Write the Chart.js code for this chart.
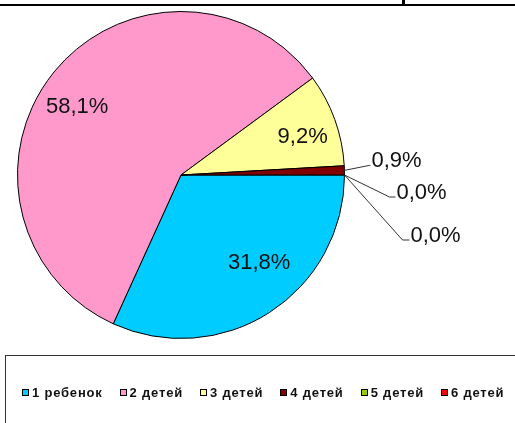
<!DOCTYPE html>
<html>
<head>
<meta charset="utf-8">
<script src="https://cdn.jsdelivr.net/npm/chart.js@4.4.1/dist/chart.umd.min.js"></script>
<style>
  html, body { margin: 0; padding: 0; background: #fff; width: 515px; height: 423px; overflow: hidden; position: relative; }
  #c { position: absolute; left: 0; top: 0; }
  .topline { position: absolute; left: 0; top: 4px; width: 515px; height: 2px; background: #000; }
  .toptab { position: absolute; left: 402px; top: 0; width: 3px; height: 6px; background: #000; }
  #legend { position: absolute; left: 5px; top: 355px; width: 530px; height: 90px; border: 1.5px solid #333; box-sizing: border-box; }
  #legend .items { position: absolute; left: 16px; top: 29px; display: flex; gap: 17px; align-items: center;
    font-family: "Liberation Sans", Arial, sans-serif; font-weight: bold; font-size: 13px; letter-spacing: 0.8px; color: #111; white-space: nowrap; }
  #legend .item { display: flex; align-items: center; }
  #legend .sw { width: 5px; height: 5px; border: 1px solid #000; margin-right: 3px; }
</style>
</head>
<body>
<div class="topline"></div>
<div class="toptab"></div>
<canvas id="c" width="515" height="423"></canvas>
<div id="legend"><div class="items" id="legendItems"></div></div>
<script>
const categories = ['1 ребенок', '2 детей', '3 детей', '4 детей', '5 детей', '6 детей'];
const shares = [31.8, 58.1, 9.2, 0.9, 0.0, 0.0];
const valueLabels = ['31,8%', '58,1%', '9,2%', '0,9%', '0,0%', '0,0%'];
const colors = ['#00CCFF', '#FF99CC', '#FFFF99', '#800000', '#99CC00', '#FF0000'];

// label placement (style only)
const labelPlacement = [
  { inside: true, f: 0.72, da: -8.8 },
  { inside: true, f: 0.76, da: -5.7 },
  { inside: true, f: 0.78, da: 2.3 },
  { inside: false, dx: 25, dy: -5, h: 1 },
  { inside: false, dx: 45, dy: 22, h: 6 },
  { inside: false, dx: 58, dy: 65, h: 7 }
];

const labelPlugin = {
  id: 'sliceLabels',
  afterDatasetsDraw(chart) {
    const ctx = chart.ctx;
    const meta = chart.getDatasetMeta(0);
    ctx.save();
    ctx.font = '22px "Liberation Sans", Arial, sans-serif';
    ctx.fillStyle = '#111';
    meta.data.forEach((arc, i) => {
      const p = arc.getProps(['x', 'y', 'startAngle', 'endAngle', 'outerRadius'], true);
      const mid = (p.startAngle + p.endAngle) / 2;
      const pl = labelPlacement[i];
      if (pl.inside) {
        const a = mid + pl.da * Math.PI / 180;
        const r = p.outerRadius * pl.f;
        ctx.textAlign = 'center';
        ctx.textBaseline = 'middle';
        ctx.fillText(valueLabels[i], p.x + Math.cos(a) * r, p.y + Math.sin(a) * r);
      } else {
        const ex = p.x + Math.cos(mid) * p.outerRadius;
        const ey = p.y + Math.sin(mid) * p.outerRadius;
        const lx = ex + pl.dx, ly = ey + pl.dy;
        ctx.strokeStyle = '#333';
        ctx.lineWidth = 1;
        ctx.beginPath();
        ctx.moveTo(ex, ey);
        ctx.lineTo(lx, ly);
        ctx.lineTo(lx + pl.h, ly);
        ctx.stroke();
        ctx.textAlign = 'left';
        ctx.textBaseline = 'middle';
        ctx.fillText(valueLabels[i], lx + pl.h + 1, ly - 4);
      }
    });
    ctx.restore();
  }
};

new Chart(document.getElementById('c'), {
  type: 'pie',
  data: {
    labels: categories,
    datasets: [{
      data: shares,
      backgroundColor: colors,
      borderColor: '#000',
      borderWidth: 1
    }]
  },
  options: {
    responsive: false,
    devicePixelRatio: 1,
    animation: false,
    rotation: 90,
    layout: { padding: { left: 17, top: 11, right: 170, bottom: 84 } },
    plugins: { legend: { display: false }, tooltip: { enabled: false } }
  },
  plugins: [labelPlugin]
});

const legendItems = document.getElementById('legendItems');
categories.forEach((name, i) => {
  const it = document.createElement('div');
  it.className = 'item';
  const sw = document.createElement('div');
  sw.className = 'sw';
  sw.style.background = colors[i];
  const tx = document.createElement('span');
  tx.textContent = name;
  it.appendChild(sw);
  it.appendChild(tx);
  legendItems.appendChild(it);
});
</script>
</body>
</html>
